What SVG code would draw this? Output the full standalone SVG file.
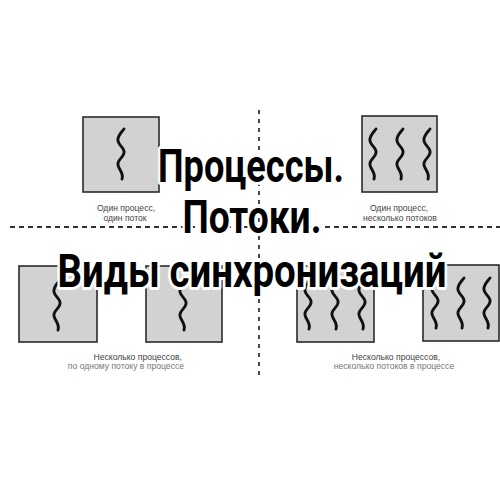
<svg xmlns="http://www.w3.org/2000/svg" width="500" height="500" viewBox="0 0 500 500">
  <defs>
    <style>
      .box{fill:#d2d2d2;stroke:#2a2a2a;stroke-width:1.6}
      .sq{fill:none;stroke:#111;stroke-width:2.9;stroke-linecap:round}
      .dash{stroke:#333;stroke-width:1.8;fill:none}
      .cap{font-family:"Liberation Sans",Arial,sans-serif;font-size:8.6px;fill:#444}
      .cap2{font-family:"Liberation Sans",Arial,sans-serif;font-size:8.6px;fill:#777}
      .title{font-family:Roboto,"Open Sans",sans-serif;font-weight:700;font-size:46px;fill:#000;stroke:#fff;stroke-width:6;stroke-linejoin:round;paint-order:stroke}
    </style>
    <path id="w" class="sq" d="M3,0 C0,4 -4,7 -3,12 C-2,17 4,19 3,24 C2,29 -4,31 -3,36 C-2,41 3,44 1,50"/>
  </defs>
  <rect width="500" height="500" fill="#fff"/>

  <g id="connectors">
    <line class="dash" x1="10" y1="227" x2="500" y2="227" stroke-dasharray="5 4"/>
    <line class="dash" x1="259" y1="110" x2="259" y2="378" stroke-dasharray="4 5"/>
  </g>

  <g id="node-one-one">
    <rect class="box" x="83" y="117" width="76" height="75"/>
    <use href="#w" x="121" y="129"/>
    <text class="cap" x="126" y="211" text-anchor="middle">Один процесс,</text>
    <text class="cap" x="125" y="221" text-anchor="middle">один поток</text>
  </g>

  <g id="node-one-many">
    <rect class="box" x="362" y="116" width="75" height="76"/>
    <use href="#w" x="373" y="129"/>
    <use href="#w" x="400" y="129"/>
    <use href="#w" x="427" y="129"/>
    <text class="cap" x="399" y="211" text-anchor="middle">Один процесс,</text>
    <text class="cap" x="400" y="221" text-anchor="middle">несколько потоков</text>
  </g>

  <g id="node-many-one">
    <rect class="box" x="19" y="266" width="78" height="76"/>
    <use href="#w" x="57" y="280"/>
    <rect class="box" x="146" y="266" width="76" height="76"/>
    <use href="#w" x="183" y="280"/>
    <text class="cap" x="182" y="360" text-anchor="end">Несколько процессов,</text>
    <text class="cap2" x="184" y="369" text-anchor="end">по одному потоку в процессе</text>
  </g>

  <g id="node-many-many">
    <rect class="box" x="297" y="266" width="77" height="76"/>
    <use href="#w" x="308" y="279"/>
    <use href="#w" x="335" y="279"/>
    <use href="#w" x="362" y="279"/>
    <rect class="box" x="423" y="265" width="76" height="76"/>
    <use href="#w" x="435" y="278"/>
    <use href="#w" x="461" y="278"/>
    <use href="#w" x="487" y="278"/>
    <text class="cap" x="396" y="360" text-anchor="middle">Несколько процессов,</text>
    <text class="cap2" x="394" y="369" text-anchor="middle">несколько потоков в процессе</text>
  </g>

  <g id="title">
    <text class="title" x="251" y="182" text-anchor="middle" textLength="186" lengthAdjust="spacingAndGlyphs">Процессы.</text>
    <text class="title" x="252" y="233" text-anchor="middle" textLength="139" lengthAdjust="spacingAndGlyphs">Потоки.</text>
    <text class="title" x="252" y="287" text-anchor="middle" textLength="389" lengthAdjust="spacingAndGlyphs">Виды синхронизаций</text>
  </g>
</svg>
